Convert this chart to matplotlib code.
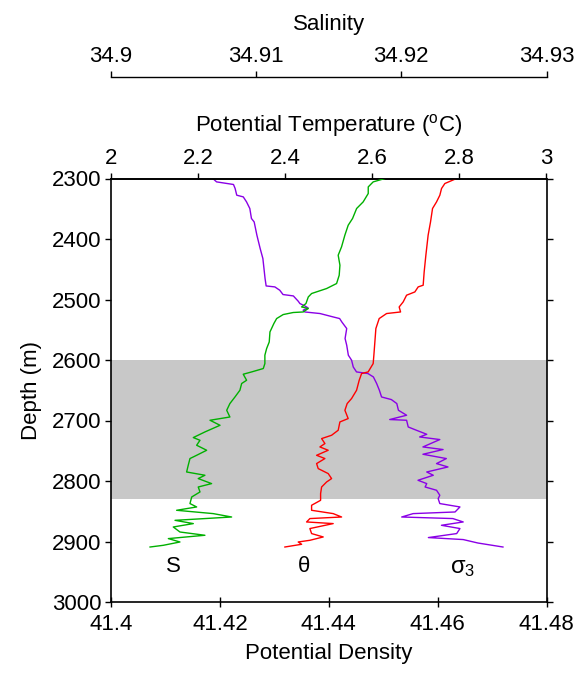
import matplotlib
matplotlib.use("Agg")
import matplotlib.pyplot as plt

plt.rcParams['font.family'] = ['Liberation Sans', 'DejaVu Sans']
plt.rcParams['mathtext.fontset'] = 'custom'
plt.rcParams['mathtext.rm'] = 'Liberation Sans'
plt.rcParams['mathtext.it'] = 'Liberation Sans:italic'

# --- profile data -------------------------------------------------------
# salinity profile
s_depth = [2300, 2305.6, 2313.9, 2324.8, 2338.7, 2349.6, 2366.1, 2377.2, 2393.7,
           2413.1, 2426.8, 2443.3, 2459.9, 2473.6, 2481.9, 2490.1, 2495.8, 2506.7,
           2512.3, 2514.9, 2520.6, 2521.5, 2524.9, 2531.5, 2539.7, 2553.6, 2570.2,
           2581.1, 2592.1, 2605.9, 2614.1, 2619.7, 2623.5, 2633.5, 2638.9, 2650,
           2661.1, 2672, 2683.1, 2694.2, 2699.6, 2707.9, 2718.9, 2728.2, 2732.7,
           2740.9, 2749.2, 2757.5, 2762.9, 2774, 2785.1, 2790.5, 2796, 2804.3,
           2809.9, 2818.1, 2826.4, 2837.3, 2842.9, 2848.4, 2853.9, 2859.5, 2865,
           2870.4, 2876, 2884.3, 2889.7, 2895.2, 2900.8, 2906.3, 2909.1]
salinity = [34.91887, 34.91806, 34.91772, 34.91772, 34.91737, 34.91692, 34.91664,
            34.91634, 34.91611, 34.91588, 34.91565, 34.91577, 34.91572, 34.91554,
            34.91485, 34.91382, 34.91359, 34.91343, 34.91313, 34.91359, 34.91324,
            34.91255, 34.91186, 34.91141, 34.91122, 34.91095, 34.91090, 34.91072,
            34.91060, 34.91060, 34.91049, 34.90969, 34.90911, 34.90934, 34.90900,
            34.90888, 34.90854, 34.90819, 34.90797, 34.90819, 34.90682, 34.90751,
            34.90647, 34.90567, 34.90613, 34.90590, 34.90659, 34.90590, 34.90544,
            34.90532, 34.90521, 34.90647, 34.90601, 34.90693, 34.90601, 34.90613,
            34.90556, 34.90544, 34.90590, 34.90452, 34.90704, 34.90831, 34.90441,
            34.90567, 34.90429, 34.90475, 34.90647, 34.90395, 34.90475, 34.90360,
            34.90269]

# potential temperature profile
t_depth = [2300, 2308.3, 2316.5, 2327.6, 2338.7, 2349.6, 2371.8, 2393.7, 2426.8,
           2454.4, 2476.4, 2479.2, 2487.5, 2492.9, 2504, 2512.3, 2520.6, 2523.2,
           2531.5, 2548, 2570.2, 2592.1, 2605.9, 2619.7, 2622.4, 2633.5, 2650,
           2663.7, 2672, 2683.1, 2696.8, 2702.4, 2716.1, 2724.4, 2729.9, 2738.1,
           2743.7, 2749.2, 2757.5, 2762.9, 2771.2, 2779.5, 2787.7, 2796, 2801.6,
           2809.9, 2820.8, 2831.9, 2840.1, 2848.4, 2853.9, 2859.5, 2862.1, 2867.7,
           2870.4, 2878.6, 2886.9, 2892.5, 2898, 2900.8, 2904.6, 2909.1]
theta = [2.7934, 2.7666, 2.7590, 2.7551, 2.7475, 2.7383, 2.7337, 2.7282, 2.7230,
         2.7191, 2.7168, 2.7053, 2.6977, 2.6787, 2.6709, 2.6617, 2.6649, 2.6328,
         2.6158, 2.6082, 2.6059, 2.6036, 2.6020, 2.5905, 2.5754, 2.5699, 2.5639,
         2.5524, 2.5423, 2.5371, 2.5446, 2.5256, 2.5217, 2.5065, 2.4836, 2.4912,
         2.4797, 2.4987, 2.4721, 2.4912, 2.4721, 2.4758, 2.4987, 2.5065, 2.4951,
         2.4836, 2.4813, 2.4813, 2.4606, 2.4606, 2.5102, 2.5295, 2.4567, 2.4491,
         2.5102, 2.4567, 2.4606, 2.4873, 2.4567, 2.4299, 2.4377, 2.3993]

# potential density (sigma-3) profile
d_depth = [2300, 2305.6, 2309.9, 2316.5, 2327.6, 2330.4, 2338.7, 2349.6, 2366.1,
           2371.8, 2393.7, 2415.7, 2432.3, 2448.8, 2465.3, 2477.6, 2479.2, 2484.7,
           2491.8, 2494.1, 2502.9, 2506.7, 2510.6, 2513.9, 2517.7, 2520.6, 2523.2,
           2528.8, 2531.5, 2537.1, 2548, 2564.5, 2575.6, 2592.1, 2600.4, 2611.5,
           2619.7, 2622.4, 2628, 2638.9, 2650, 2661.1, 2665.4, 2672, 2683.1, 2691.3,
           2698.4, 2699.6, 2710.7, 2716.1, 2722.8, 2727.2, 2731.5, 2743.7, 2748,
           2755.8, 2762.9, 2771.2, 2776.8, 2785.1, 2790.5, 2798.8, 2804.3, 2809.9,
           2815.3, 2823.6, 2829.1, 2837.3, 2842.9, 2851.2, 2853.9, 2859.5, 2862.1,
           2867.7, 2873.2, 2878.6, 2886.9, 2893.5, 2896.8, 2902.5, 2909.1]
sigma3 = [41.4187, 41.4194, 41.4225, 41.4228, 41.4231, 41.4243, 41.4249, 41.4255,
          41.4258, 41.4263, 41.4268, 41.4274, 41.4279, 41.4281, 41.4283, 41.4285,
          41.4301, 41.4310, 41.4316, 41.4335, 41.4344, 41.4347, 41.4356, 41.4362,
          41.4353, 41.4356, 41.4384, 41.4408, 41.4420, 41.4424, 41.4433, 41.4430,
          41.4433, 41.4436, 41.4442, 41.4445, 41.4451, 41.4472, 41.4482, 41.4488,
          41.4493, 41.4497, 41.4515, 41.4525, 41.4528, 41.4543, 41.4512, 41.4543,
          41.4546, 41.4561, 41.4580, 41.4567, 41.4604, 41.4573, 41.4610, 41.4573,
          41.4616, 41.4598, 41.4619, 41.4580, 41.4592, 41.4564, 41.4580, 41.4577,
          41.4598, 41.4604, 41.4601, 41.4604, 41.4641, 41.4632, 41.4555, 41.4534,
          41.4628, 41.4647, 41.4607, 41.4641, 41.4635, 41.4583, 41.4647, 41.4674,
          41.4720]

# highlighted depth range
band = (2600, 2830)

# axis ticks
depth_ticks = [2300, 2400, 2500, 2600, 2700, 2800, 2900, 3000]
dens_ticks = [41.4, 41.42, 41.44, 41.46, 41.48]
dens_labels = ['41.4', '41.42', '41.44', '41.46', '41.48']
temp_ticks = [2, 2.2, 2.4, 2.6, 2.8, 3]
temp_labels = ['2', '2.2', '2.4', '2.6', '2.8', '3']
sal_ticks = [34.9, 34.91, 34.92, 34.93]
sal_labels = ['34.9', '34.91', '34.92', '34.93']

# --- figure ---------------------------------------------------------------
W, H = 579, 673
fig = plt.figure(figsize=(W / 100, H / 100), dpi=100)
ax = fig.add_axes([111 / W, 1 - 602 / H, 435.5 / W, 423.5 / H])

fs = 16
green = '#00b000'
red = '#ff0000'
purple = '#8a00e6'

# density axis (bottom) and depth axis
ax.axhspan(*band, color='#c8c8c8', lw=0, zorder=0)
ax.set_ylim(3000, 2300)
ax.set_yticks(depth_ticks)
ax.set_xlim(41.4, 41.48)
ax.set_xticks(dens_ticks)
ax.set_xticklabels(dens_labels)
ax.set_xlabel('Potential Density', fontsize=fs, labelpad=6)
ax.set_ylabel('Depth (m)', fontsize=fs, labelpad=7)
ax.tick_params(axis='x', labelsize=fs, direction='inout', length=7, width=1, pad=5)
ax.tick_params(axis='y', labelsize=fs, direction='out', length=4, width=1, pad=3,
               right=True, labelright=False)
for sp in ax.spines.values():
    sp.set_linewidth(1.2)
ax.plot(sigma3, d_depth, color=purple, lw=1.0)

# temperature axis on top of the frame
axt = ax.twiny()
axt.set_xlim(2, 3)
axt.set_xticks(temp_ticks)
axt.set_xticklabels(temp_labels)
axt.tick_params(axis='x', labelsize=fs, direction='out', length=4, width=1, pad=3)
axt.set_xlabel(r'Potential Temperature ($\mathregular{^o}$C)', fontsize=fs, labelpad=12)
for k in ['left', 'right', 'bottom']:
    axt.spines[k].set_visible(False)
axt.spines['top'].set_linewidth(1.2)
axt.plot(theta, t_depth, color=red, lw=1.0)

# salinity axis detached above
axs = ax.twiny()
axs.set_xlim(34.9, 34.93)
axs.set_xticks(sal_ticks)
axs.set_xticklabels(sal_labels)
axs.spines['top'].set_position(('outward', 73))
for k in ['left', 'right', 'bottom']:
    axs.spines[k].set_visible(False)
axs.spines['top'].set_linewidth(1.0)
axs.tick_params(axis='x', labelsize=fs, direction='out', length=4, width=1, pad=3)
axs.set_xlabel('Salinity', fontsize=fs, labelpad=12)
axs.plot(salinity, s_depth, color=green, lw=1.0)

# curve labels
ax.text(41.4114, 2942, 'S', fontsize=fs, ha='center', va='center')
ax.text(41.4355, 2942, 'θ', fontsize=fs, ha='center', va='center')
ax.text(41.4645, 2944, r'$\mathregular{σ_3}$', fontsize=fs + 1, ha='center', va='center')

fig.savefig('out.png', dpi=100)
